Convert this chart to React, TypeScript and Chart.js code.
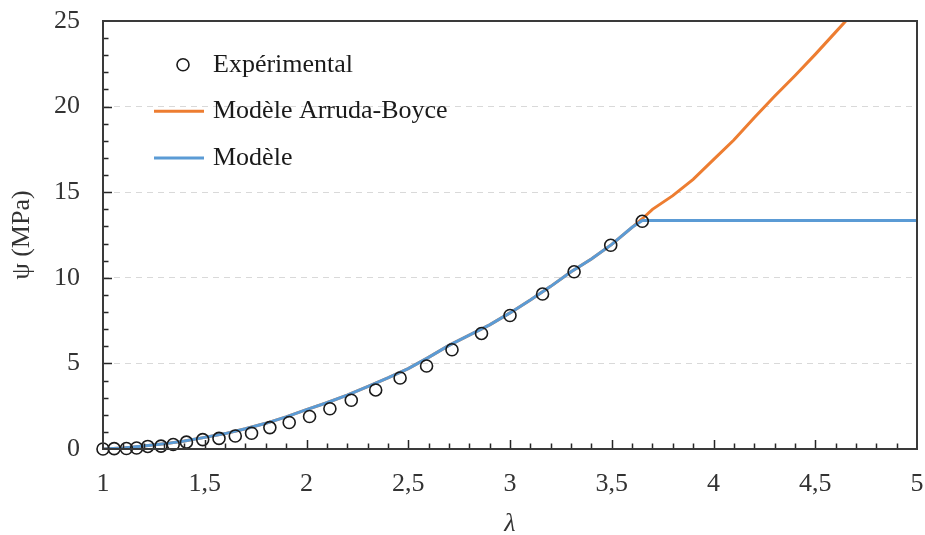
import React, { useEffect, useRef } from 'react';
import { Chart, registerables } from 'chart.js';

Chart.register(...registerables);

// Experimental points (λ, ψ in MPa)
const experimentalLambda = [1.0, 1.055, 1.115, 1.165, 1.22, 1.285, 1.345, 1.41, 1.49, 1.57, 1.65, 1.73, 1.82, 1.915, 2.015, 2.115, 2.22, 2.34, 2.46, 2.59, 2.715, 2.86, 3.0, 3.16, 3.315, 3.495, 3.65];
const experimentalPsi = [0, 0.02, 0.03, 0.06, 0.15, 0.17, 0.26, 0.4, 0.55, 0.62, 0.76, 0.92, 1.25, 1.55, 1.9, 2.35, 2.85, 3.45, 4.15, 4.85, 5.8, 6.75, 7.8, 9.05, 10.35, 11.9, 13.3];

// "Modèle" curve
const modelLambda = [1.0, 1.1, 1.2, 1.3, 1.4, 1.5, 1.6, 1.7, 1.8, 1.9, 2.0, 2.1, 2.2, 2.3, 2.4, 2.5, 2.6, 2.7, 2.8, 2.9, 3.0, 3.1, 3.2, 3.3, 3.4, 3.5, 3.6, 3.65, 5.0];
const modelPsi = [0, 0.06, 0.17, 0.3, 0.47, 0.68, 0.9, 1.18, 1.5, 1.88, 2.3, 2.7, 3.15, 3.65, 4.15, 4.7, 5.35, 6.05, 6.65, 7.25, 7.95, 8.7, 9.5, 10.35, 11.1, 11.95, 12.95, 13.35, 13.35];

// "Modèle Arruda-Boyce" curve
const arrudaBoyceLambda = [1.0, 1.1, 1.2, 1.3, 1.4, 1.5, 1.6, 1.7, 1.8, 1.9, 2.0, 2.1, 2.2, 2.3, 2.4, 2.5, 2.6, 2.7, 2.8, 2.9, 3.0, 3.1, 3.2, 3.3, 3.4, 3.5, 3.6, 3.65, 3.7, 3.8, 3.9, 4.0, 4.1, 4.2, 4.3, 4.4, 4.5, 4.6, 4.7];
const arrudaBoycePsi = [0, 0.06, 0.17, 0.3, 0.47, 0.68, 0.9, 1.18, 1.5, 1.88, 2.3, 2.7, 3.15, 3.65, 4.15, 4.7, 5.35, 6.05, 6.65, 7.25, 7.95, 8.7, 9.5, 10.35, 11.1, 11.95, 12.95, 13.45, 14.0, 14.8, 15.75, 16.9, 18.05, 19.35, 20.6, 21.8, 23.05, 24.35, 25.65];

const seriesLabels = ['Expérimental', 'Modèle Arruda-Boyce', 'Modèle'];
const seriesColors = ['#1a1a1a', '#ED7D31', '#5B9BD5'];

const xTitle = 'λ';
const yTitle = 'ψ (MPa)';

const FONT = "'Liberation Serif', 'Times New Roman', serif";
const TEXT = '#333333';

const toPoints = (xs: number[], ys: number[]) => xs.map((x, i) => ({ x, y: ys[i] }));
const fmt = (v: number) => String(v).replace('.', ',');

const framePlugin = {
  id: 'frameTicks',
  afterDraw(chart: any) {
    const { ctx, chartArea: a, scales } = chart;
    const x = scales.x;
    const y = scales.y;
    ctx.save();
    ctx.strokeStyle = '#262626';
    ctx.lineWidth = 1.5;
    ctx.beginPath();
    for (let i = 11; i < 50; i++) {
      const px = Math.round(x.getPixelForValue(i / 10)) + 0.5;
      const len = i % 5 === 0 ? 9 : 5.5;
      ctx.moveTo(px, a.bottom);
      ctx.lineTo(px, a.bottom - len);
    }
    for (let j = 1; j < 25; j++) {
      const py = Math.round(y.getPixelForValue(j)) + 0.5;
      const len = j % 5 === 0 ? 9 : 5.5;
      ctx.moveTo(a.left, py);
      ctx.lineTo(a.left + len, py);
    }
    ctx.stroke();
    ctx.strokeStyle = '#3a3a3a';
    ctx.lineWidth = 2;
    ctx.strokeRect(a.left, a.top, a.right - a.left, a.bottom - a.top);
    ctx.restore();
  },
};

const legendPlugin = {
  id: 'insideLegend',
  afterDraw(chart: any) {
    const { ctx, chartArea: a } = chart;
    const datasets = chart.data.datasets;
    ctx.save();
    ctx.font = `26px ${FONT}`;
    ctx.textBaseline = 'alphabetic';
    ctx.textAlign = 'left';
    const baseX = a.left + 110;
    const rowH = 46.6;
    datasets.forEach((ds: any, i: number) => {
      const base = a.top + 50.7 + i * rowH;
      const my = base - 7;
      if (i === 0) {
        ctx.beginPath();
        ctx.strokeStyle = ds.borderColor;
        ctx.lineWidth = 1.6;
        ctx.arc(a.left + 80, my, 6, 0, Math.PI * 2);
        ctx.stroke();
      } else {
        ctx.beginPath();
        ctx.strokeStyle = ds.borderColor;
        ctx.lineWidth = 3;
        ctx.moveTo(a.left + 51, my);
        ctx.lineTo(a.left + 101, my);
        ctx.stroke();
      }
      ctx.fillStyle = '#1a1a1a';
      ctx.fillText(ds.label, baseX, base);
    });
    ctx.restore();
  },
};

export default function App() {
  const canvasRef = useRef<HTMLCanvasElement | null>(null);

  useEffect(() => {
    if (!canvasRef.current) return;
    const chart = new Chart(canvasRef.current, {
      type: 'scatter',
      data: {
        datasets: [
          {
            label: seriesLabels[0],
            data: toPoints(experimentalLambda, experimentalPsi),
            borderColor: seriesColors[0],
            backgroundColor: 'rgba(0,0,0,0)',
            pointRadius: 6,
            pointBorderWidth: 1.6,
            showLine: false,
            clip: false as any,
            order: 0,
          },
          {
            label: seriesLabels[1],
            data: toPoints(arrudaBoyceLambda, arrudaBoycePsi),
            borderColor: seriesColors[1],
            backgroundColor: seriesColors[1],
            borderWidth: 3,
            pointRadius: 0,
            showLine: true,
            tension: 0,
            order: 2,
          },
          {
            label: seriesLabels[2],
            data: toPoints(modelLambda, modelPsi),
            borderColor: seriesColors[2],
            backgroundColor: seriesColors[2],
            borderWidth: 3,
            pointRadius: 0,
            showLine: true,
            tension: 0,
            order: 1,
          },
        ],
      },
      options: {
        animation: false,
        responsive: true,
        maintainAspectRatio: false,
        layout: { padding: { top: 21, right: 8, left: 0, bottom: 0 } },
        plugins: {
          legend: { display: false },
          tooltip: { enabled: false },
        },
        scales: {
          x: {
            type: 'linear',
            min: 1,
            max: 5,
            ticks: {
              stepSize: 0.5,
              padding: 20,
              color: TEXT,
              font: { family: FONT, size: 26 },
              callback: (v: any) => fmt(Number(v)),
              maxRotation: 0,
            },
            grid: { display: false, drawTicks: false, tickLength: 0 },
            border: { display: false },
            title: {
              display: true,
              text: xTitle,
              color: TEXT,
              font: { family: FONT, size: 26, style: 'italic' },
              padding: { top: 0, bottom: -5 },
            },
            afterFit: (s: any) => {
              s.height = 86;
              s.paddingLeft = 0;
              s.paddingRight = 0;
            },
          },
          y: {
            type: 'linear',
            min: 0,
            max: 25,
            ticks: {
              stepSize: 5,
              padding: 23,
              color: TEXT,
              font: { family: FONT, size: 26 },
              callback: (v: any) => fmt(Number(v)),
            },
            grid: {
              display: true,
              drawTicks: false,
              tickLength: 0,
              lineWidth: 1,
              color: (ctx: any) =>
                ctx.tick && (ctx.tick.value === 0 || ctx.tick.value === 25) ? 'rgba(0,0,0,0)' : '#d9d9d9',
            },
            border: { display: false, dash: [6, 5] },
            title: {
              display: true,
              text: yTitle,
              color: TEXT,
              font: { family: FONT, size: 26 },
              padding: { top: 7, bottom: 0 },
            },
            afterFit: (s: any) => {
              s.width = 103;
              s.paddingTop = 0;
              s.paddingBottom = 0;
            },
          },
        },
      },
      plugins: [framePlugin, legendPlugin],
    });
    return () => chart.destroy();
  }, []);

  return (
    <div style={{ position: 'fixed', left: 0, top: 0, width: 925, height: 535, background: '#ffffff' }}>
      <canvas ref={canvasRef} />
    </div>
  );
}
